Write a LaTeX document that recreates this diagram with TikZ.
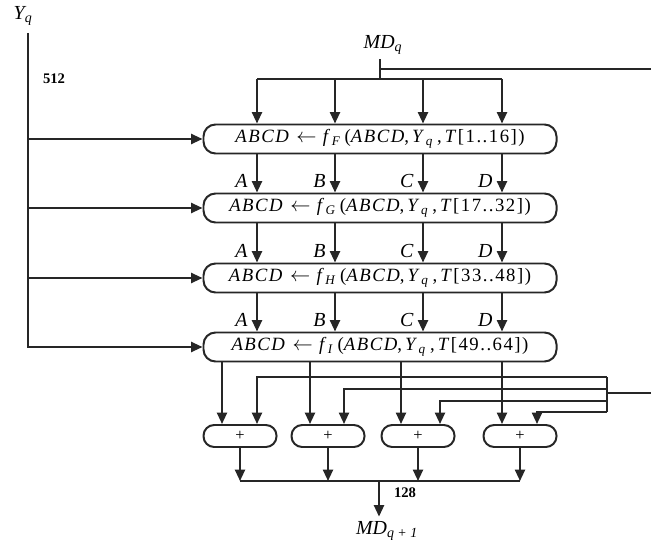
\documentclass[tikz,border=0pt]{standalone}
\usepackage{fontspec}
\setmainfont{Liberation Serif}
\newfontfamily\spacedfont[LetterSpace=8]{Liberation Serif}
\usetikzlibrary{positioning}
\usetikzlibrary{arrows.meta}
\newcommand{\roundfn}[2]{\textit{ABCD} $\leftarrow$ \textit{f}\textsubscript{\textit{#1}}\,(\textit{ABCD},\,\textit{Y}\textsubscript{\textit{q}}\,,\,\textit{T}[#2])}

\begin{document}
\begin{tikzpicture}[
    x=0.03cm, y=-0.03cm,
    line width=1.7pt, draw=black!85,
    round/.style={rectangle, draw, rounded corners=0.36cm, minimum width=10.59cm, minimum height=0.87cm, inner sep=0pt, font=\spacedfont\fontsize{16}{18}\selectfont},
    adder/.style={rectangle, draw, rounded corners=0.32cm, minimum width=2.19cm, minimum height=0.66cm, inner sep=0pt, font=\fontsize{14}{16}\selectfont},
    lbl/.style={font=\fontsize{17}{19}\selectfont\itshape},
    num/.style={font=\fontsize{12.5}{14}\selectfont\bfseries},
    arr/.style={-{Triangle[length=3.4mm,width=3mm]}}
]
    \useasboundingbox (0,0) rectangle (651,542);

    % the four rounds
    \node[round] (r1) at (380,139) {\roundfn{F}{1..16}};
    \node[round] (r2) at (380,208) {\roundfn{G}{17..32}};
    \node[round] (r3) at (380,278) {\roundfn{H}{33..48}};
    \node[round] (r4) at (380,347) {\roundfn{I}{49..64}};

    \coordinate (cA) at (257,0);
    \coordinate (cB) at (335,0);
    \coordinate (cC) at (423,0);
    \coordinate (cD) at (502,0);

    % message block Y_q
    \node[lbl] (yq) at (23,16) {Y\textsubscript{q}};
    \node[num] (bits) at (54,79) {512};
    \coordinate (ytop) at (28,33);
    \draw[arr] (ytop) |- (r4.west);
    \foreach \r in {r1,r2,r3}
        \draw[arr] (ytop |- \r.west) -- (\r.west);

    % chaining variable MD_q
    \node[lbl] (mdq) at (383,45) {MD\textsubscript{q}};
    \coordinate (split) at (380,79);
    \coordinate (outR) at (651,69);
    \draw (mdq.south -| split) -- (split);
    \draw (split |- outR) -- (outR);
    \draw (split -| cA) -- (split -| cD);
    \foreach \c in {cA,cB,cC,cD}
        \draw[arr] (split -| \c) -- (r1.north -| \c);

    \foreach \i/\j in {r1/r2, r2/r3, r3/r4}{
        \foreach \c/\t in {cA/A, cB/B, cC/C, cD/D}
            \draw[arr] (\i.south -| \c) -- node[lbl, left, pos=0.7, xshift=-4pt] {\t} (\j.north -| \c);
    }

    % final additions
    \node[adder] (s1) at (240,436) {+};
    \node[adder] (s2) at (328,436) {+};
    \node[adder] (s3) at (418,436) {+};
    \node[adder] (s4) at (520,436) {+};

    \foreach \n/\x in {i1/222, i2/310, i3/401, i4/502, k1/257, k2/344, k3/440, k4/537}
        \coordinate (\n) at (\x,0);
    \foreach \n/\i in {s1/i1, s2/i2, s3/i3, s4/i4}
        \draw[arr] (r4.south -| \i) -- (\n.north -| \i);

    \coordinate (rin) at (651,393);
    \coordinate (rbar) at (607,393);
    \coordinate (m1) at (607,377);
    \coordinate (m2) at (607,389);
    \coordinate (m3) at (607,401);
    \coordinate (m4) at (607,412);
    \draw (rin) -- (rbar);
    \draw (m1) -- (m4);
    \foreach \m/\k/\n in {m1/k1/s1, m2/k2/s2, m3/k3/s3, m4/k4/s4}
        \draw[arr] (\m) -| (\n.north -| \k);

    \coordinate (join) at (379,481);
    \foreach \n in {s1,s2,s3,s4}
        \draw[arr] (\n.south) -- (\n.south |- join);
    \draw (s1.south |- join) -- (s4.south |- join);
    \node[lbl] (mdn) at (387,531) {MD\textsubscript{q + 1}};
    \node[num] (outbits) at (405,493) {128};
    \draw[arr] (join) -- (join |- mdn.north);
\end{tikzpicture}
\end{document}
